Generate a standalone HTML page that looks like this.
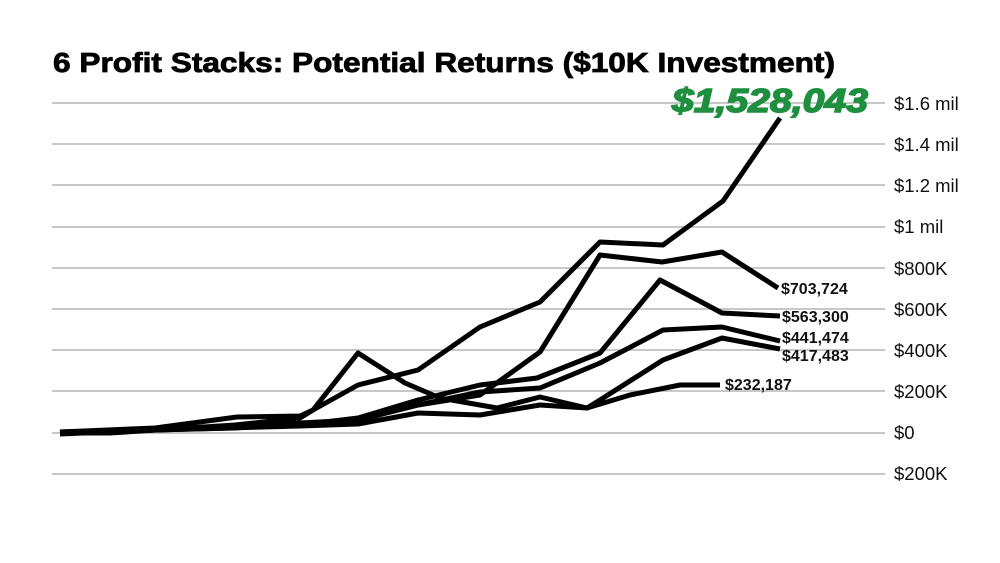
<!DOCTYPE html>
<html><head><style>body{margin:0;background:#fff}svg{display:block}</style></head><body>
<svg width="1000" height="563" xmlns="http://www.w3.org/2000/svg" font-family="Liberation Sans, sans-serif">
<rect width="1000" height="563" fill="#fff"/>
<text x="53" y="72" font-size="28" font-weight="bold" stroke="#000" stroke-width="0.8" textLength="782" lengthAdjust="spacingAndGlyphs">6 Profit Stacks: Potential Returns ($10K Investment)</text>
<g stroke="#b5b5b5" stroke-width="1.5">
<line x1="52" x2="885" y1="103" y2="103"/><line x1="52" x2="885" y1="144" y2="144"/>
<line x1="52" x2="885" y1="185" y2="185"/><line x1="52" x2="885" y1="227" y2="227"/>
<line x1="52" x2="885" y1="268" y2="268"/><line x1="52" x2="885" y1="309" y2="309"/>
<line x1="52" x2="885" y1="350" y2="350"/><line x1="52" x2="885" y1="391" y2="391"/>
<line x1="52" x2="885" y1="433" y2="433"/><line x1="52" x2="885" y1="474" y2="474"/>
</g>
<g font-size="18.5" fill="#111">
<text x="894" y="110">$1.6 mil</text><text x="894" y="151">$1.4 mil</text>
<text x="894" y="192">$1.2 mil</text><text x="894" y="233">$1 mil</text>
<text x="894" y="275">$800K</text><text x="894" y="316">$600K</text>
<text x="894" y="357">$400K</text><text x="894" y="398">$200K</text>
<text x="894" y="439">$0</text><text x="894" y="480">$200K</text>
</g>
<g fill="none" stroke="#000" stroke-width="5" stroke-linejoin="round">
<polyline points="60,432 155,428 237,417 300,416 313,410 358,385 418,370 480,327 540,302 600,242 663,245 723,201 780,118"/>
<polyline points="60,434 200,428 300,425 358,420 418,405 480,395 540,352 600,255 662,262 722,252 778,288"/>
<polyline points="60,432 155,430 300,425 358,418 418,400 480,385 537,378 600,353 660,280 722,313 780,316"/>
<polyline points="60,433 155,430 235,428 300,423 358,420 418,405 480,392 540,388 600,363 663,330 722,327 780,341"/>
<polyline points="60,432 155,430 300,426 358,424 418,413 480,415 540,405 587,408 600,400 663,360 722,338 780,349"/>
<polyline points="60,433 110,433 235,425 300,418 313,410 358,353 405,383 440,398 497,408 540,397 587,408 630,395 680,385 720,385"/>
</g>
<text x="672" y="112" font-size="33" font-weight="bold" font-style="italic" fill="#1e8f3e" stroke="#1e8f3e" stroke-width="1.5" textLength="196" lengthAdjust="spacingAndGlyphs">$1,528,043</text>
<g font-size="16" font-weight="bold" fill="#111">
<text x="781" y="294">$703,724</text><text x="782" y="322">$563,300</text>
<text x="782" y="343">$441,474</text><text x="782" y="361">$417,483</text>
<text x="725" y="390">$232,187</text>
</g>
</svg>
</body></html>
